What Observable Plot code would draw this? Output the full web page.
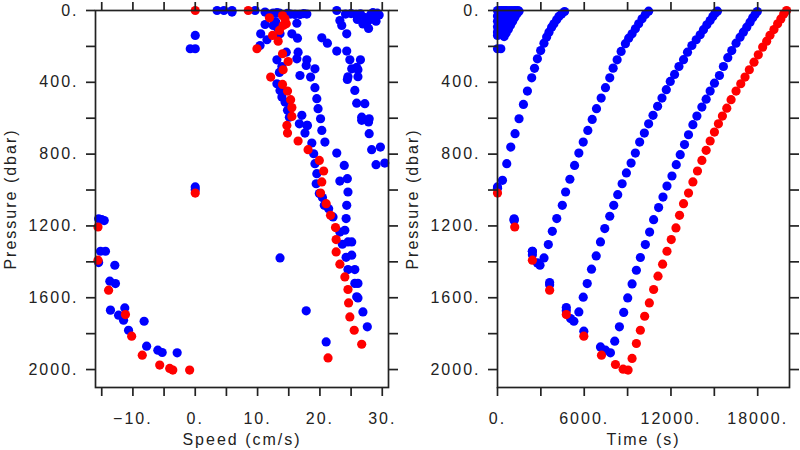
<!DOCTYPE html>
<html>
<head>
<meta charset="utf-8">
<script src="https://cdn.jsdelivr.net/npm/d3@7"></script>
<script src="https://cdn.jsdelivr.net/npm/@observablehq/plot@0.6"></script>
<style>
  html, body { margin: 0; padding: 0; background: #fff; }
  #wrap { display: flex; width: 800px; height: 450px; overflow: hidden; }
  #wrap svg { display: block; flex: none; }
</style>
</head>
<body>
<div id="wrap"></div>
<script>
// ---------- data ----------
// Left panel: [speed (cm/s), pressure (dbar)]
const speedBlue = [
  [0,139],[-0.8,213],[0,213],[0,983],[0,998],
  [3.5,0],[4.6,0],[5.9,0],[5.9,9],[9.6,0],[11.2,9],[12.5,14],[13.1,12],[13.5,14],
  [16,22],[16.8,22],[17.4,17],[17.9,20],[14.8,16],[15.3,20],
  [11.2,78],[12.5,83],[12.9,62],[13.2,97],[10.5,130],[11.5,163],[10.4,195],[13.6,130],[15.5,130],[16.4,154],[16.3,71],
  [14.6,232],[13.1,275],[13.9,312],[16.5,232],[16.3,269],[17.9,275],[17.8,306],[19.2,325],[16.8,362],[18.5,371],
  [13.5,345],[13.1,408],[13.6,445],[13.9,482],[14.4,510],[14.8,556],[15.1,594],[17.1,584],[18,640],[16.7,631],[17.9,640],
  [17.6,683],[18.7,738],[19,798],[19.2,853],[19.5,909],[19.4,965],[19.9,1020],[20.4,1042],[20.7,1085],[21.4,1104],[22.1,1150],
  [23.2,1234],[24,1224],[23.6,1302],[24.5,1289],[25.1,1289],[25.1,1363],[24.2,1375],[24.5,1443],[25.6,1443],[25.6,1520],
  [26.1,1520],[25.9,1595],[26.1,1601],[26.9,1679],[27.6,1762],
  [19.2,430],[19.5,491],[19.7,547],[20.1,603],[20.3,668],[20.8,733],[22.7,794],[23.9,863],[23.2,950],[24.4,937],
  [24.5,1011],[24.3,1085],[24.2,1159],
  [20.3,152],[21.2,182],[22.7,226],[24.3,226],[24.8,275],[26.5,275],[25.1,325],[25.9,317],[26.1,330],[24.5,369],[26.1,369],
  [24.4,384],[25.6,445],[25.9,516],[27.2,519],[26.7,594],[27.9,603],[26.7,612],[27.8,621],[27.9,686],[28.3,775],[29.7,761],
  [29,859],[30.4,850],
  [22.7,0],[23.2,56],[23.5,83],[24.3,130],[24.1,20],[25,17],[25.8,22],[26.5,18],[26.9,75],[27.5,70],[27.8,100],[28.2,20],
  [28.5,12],[28.7,35],[29.2,15],[29.5,25],[28.1,50],[27.3,40],[26,50],[29,60],
  [-15.5,1160],[-15,1165],[-14.6,1170],[-15.2,1341],[-14.4,1341],[-15.5,1404],[-12.9,1419],[-13.7,1508],[-12.8,1521],
  [-13.6,1669],[-11.3,1657],[-12.3,1697],[-11.5,1725],[-10.7,1781],[-8.2,1731],[-7.8,1870],[-6,1892],[-5.3,1905],[-2.9,1907],
  [13.6,1378],[17.8,1673],[21,1846]
];
const speedRed = [
  [0,0],[8.5,0],[14,28],[11.9,41],[14.4,46],[14.6,74],[14.1,83],[13.5,111],[12.4,139],[13.3,171],[9.9,213],[14,241],
  [14.9,284],[14.1,330],[12.1,371],[14,412],[14.8,449],[15.3,497],[15.5,541],[15.5,590],[14.7,640],[14.8,683],[16.5,727],
  [18.1,775],[19.9,835],[20.6,894],[20.3,955],[20.1,1017],[21,1076],[21.7,1141],[22.5,1209],[22.6,1276],[22.6,1345],
  [23.2,1413],[24,1484],[24.5,1554],[24.6,1629],[24.8,1707],[25.5,1781],[26.7,1859],[21.3,1935],
  [0,1017],[-15.6,1206],[-15.6,1391],[-13.9,1558],[-11.2,1694],[-10.2,1814],[-8.5,1920],[-5.7,1975],[-4.1,1994],
  [-3.6,2003],[-0.9,2003]
];

// Right panel: [time (s), pressure (dbar)]
const timeBlue0 = [
  [0,0],[0,30],[0,60],[0,90],[0,120],[0,139],[0,213],[230,213],[60,105],[460,145],[600,125],[750,105],[900,82],
  [1050,60],[1200,38],[1350,18],[1490,4],[200,100],[350,90],[500,70],[650,55],[800,38],[950,22],[1100,10],[1250,3],
  [150,40],[300,25],[450,12],[600,4],[150,0],[300,0],[450,0],[600,0],[800,0],[1000,0],[1200,0],[1400,0]
];
const timeBlue1 = [
  [0,983],[345,946],[641,853],[917,761],[1214,686],[1490,603],[1793,523],[2069,449],[2366,375],[2560,322],
  [2759,269],[2986,223],[3214,182],[3400,148],[3560,121],[3745,93],[3903,74],[4090,52],[4248,33],[4434,19],[4641,6]
];
const timeBlue2 = [
  [0,990],[1150,1160],[2414,1341],[2759,1406],[2940,1419],[3218,1378],[3517,1304],[3793,1230],
  [4100,1159],[4483,1085],[4710,1011],[5007,940],[5331,863],[5628,794],[5931,733],[6248,668],[6552,607],[6848,547],
  [7172,488],[7469,430],[7766,375],[8000,321],[8276,275],[8552,228],[8848,185],[9076,154],[9310,130],[9538,102],
  [9766,74],[10000,46],[10228,22],[10455,4]
];
const timeBlue3 = [
  [1150,1165],[2414,1360],[3607,1515],[4759,1655],[5055,1716],[5283,1731],[5628,1679],[5931,1597],[6207,1521],
  [6503,1441],[6828,1367],[7124,1289],[7421,1215],
  [7766,1146],[8041,1085],[8317,1026],[8621,965],[8917,905],[9241,850],[9538,794],[9834,733],[10159,683],[10455,631],
  [10759,584],[11076,534],[11379,488],[11676,441],[11952,395],[12248,356],[12552,312],[12869,274],[13145,232],
  [13448,195],[13745,163],[14021,135],[14248,107],[14483,80],[14710,56],[14897,33],[15055,15],[15214,4]
];
const timeBlue4 = [
  [1150,1170],[2414,1341],[3607,1527],[4759,1673],[5972,1786],[7124,1874],[7469,1892],[7814,1907],
  [8110,1842],[8434,1762],[8731,1682],[9007,1601],[9310,1523],[9607,1447],[9883,1376],[10228,1304],[10524,1234],
  [10800,1165],[11145,1098],[11448,1039],[11724,978],[12069,922],[12366,859],[12641,803],[12938,747],[13214,692],
  [13517,636],[13793,588],[14138,538],[14434,494],[14710,449],[15007,405],[15352,362],[15628,312],[15931,263],
  [16207,223],[16503,182],[16779,149],[17007,121],[17241,93],[17469,65],[17655,41],[17814,22],[17972,6]
];
const timeRed = [
  [0,1017],[1193,1206],[2414,1391],[3607,1558],[4759,1694],[5972,1814],[7193,1920],[8159,1972],[8690,1998],[9034,2003],
  [9310,1938],[9607,1855],[9883,1781],[10180,1703],[10503,1629],[10800,1554],[11103,1480],[11421,1413],[11724,1341],
  [12021,1276],[12345,1211],[12593,1141],[12869,1076],[13214,1017],[13517,955],[13834,894],[14138,835],[14434,779],
  [14710,727],[15007,677],[15283,631],[15559,588],[15862,544],[16159,497],[16503,449],[16828,408],[17124,371],
  [17421,330],[17745,288],[18041,247],[18345,204],[18621,171],[18850,138],[19124,106],[19379,74],[19600,47],
  [19800,19],[20000,0]
];

// tick values
const pressureTicks = [0,200,400,600,800,1000,1200,1400,1600,1800,2000];
const speedTicks = [-15,-10,-5,0,5,10,15,20,25,30];
const timeTicks = [0,3000,6000,9000,12000,15000,18000];

// ---------- drawing ----------
const BLUE = "#0000ff", RED = "#ff0000", INK = "#222";
const num = d => (d < 0 ? "\u2212" + (-d) : String(d)) + ".";

function panel({blue, red, xName, xDomain, xTicks, xLabeled, xLabel, marginLeft, marginRight}) {
  const toRows = arr => arr.map(([v, p]) => ({[xName]: v, p}));
  return Plot.plot({
    width: 400,
    height: 450,
    marginLeft, marginRight,
    marginTop: 10,
    marginBottom: 63,
    style: {fontFamily: "'Liberation Sans', Arial, sans-serif", fontSize: "16px", letterSpacing: "2px",
            color: INK, background: "white", overflow: "visible"},
    x: {domain: xDomain},
    y: {domain: [0, 2100], reverse: true},
    marks: [
      Plot.dot(toRows(blue), {x: xName, y: "p", r: 4.6, fill: BLUE, stroke: "none"}),
      Plot.dot(toRows(red), {x: xName, y: "p", r: 4.6, fill: RED, stroke: "none"}),
      Plot.frame({stroke: INK, strokeWidth: 1.7}),
      Plot.axisX({anchor: "bottom", ticks: xTicks, tickFormat: d => xLabeled(d) ? num(d) : "",
        tickSize: 9, tickPadding: 16, strokeWidth: 1.7, stroke: INK,
        label: xLabel, labelAnchor: "center", labelOffset: 57, labelArrow: false}),
      Plot.axisX({anchor: "top", ticks: xTicks, tickFormat: () => "", tickSize: 9, strokeWidth: 1.7, stroke: INK, label: null}),
      Plot.axisY({anchor: "left", ticks: pressureTicks, tickFormat: d => d % 400 === 0 ? num(d) : "",
        tickSize: 9, tickPadding: 8, strokeWidth: 1.7, stroke: INK,
        label: "Pressure (dbar)", labelAnchor: "center", labelOffset: 91, labelArrow: false}),
      Plot.axisY({anchor: "right", ticks: pressureTicks, tickFormat: () => "", tickSize: 9, strokeWidth: 1.7, stroke: INK, label: null})
    ]
  });
}

const wrap = document.getElementById("wrap");
wrap.append(panel({
  blue: speedBlue, red: speedRed, xName: "speed",
  xDomain: [-16, 31], xTicks: speedTicks, xLabeled: d => d % 10 === 0,
  xLabel: "Speed (cm/s)", marginLeft: 95, marginRight: 12
}));
wrap.append(panel({
  blue: [...timeBlue0, ...timeBlue1, ...timeBlue2, ...timeBlue3, ...timeBlue4], red: timeRed, xName: "time",
  xDomain: [0, 20200], xTicks: timeTicks, xLabeled: d => d % 6000 === 0,
  xLabel: "Time (s)", marginLeft: 97, marginRight: 11
}));
</script>
</body>
</html>
